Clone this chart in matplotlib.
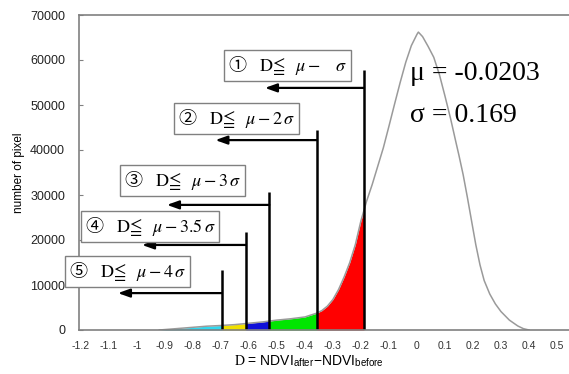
"""
Histogram of the NDVI difference with the mu - k*sigma thresholds marked.
"""

import numpy as np
import matplotlib.pyplot as plt

plt.rcParams.update({
    "font.family": ["Liberation Sans", "DejaVu Sans"],
    "mathtext.fontset": "stix",
})

# ---- data ----
d_values = [-0.92, -0.85, -0.80, -0.75, -0.70, -0.65, -0.60, -0.55, -0.50,
            -0.45, -0.40, -0.36, -0.34, -0.32, -0.30, -0.28, -0.26, -0.24,
            -0.22, -0.20, -0.18, -0.16, -0.14, -0.12, -0.10, -0.08, -0.06,
            -0.04, -0.02, 0.00, 0.005, 0.02, 0.04, 0.06, 0.08, 0.10, 0.12,
            0.14, 0.15, 0.165, 0.18, 0.19, 0.20, 0.21, 0.225, 0.24, 0.26,
            0.28, 0.30, 0.33, 0.36, 0.38, 0.40]
pixel_counts = [0, 350, 600, 850, 1000, 1200, 1500, 1800, 2200,
                2500, 2900, 3700, 4300, 5300, 6800, 9000, 11800, 15000,
                19000, 24300, 28600, 32300, 36400, 40500, 45300, 50200, 55000,
                59500, 63200, 65700, 66200, 65200, 63000, 60600, 56800, 52000,
                47000, 41500, 38800, 34500, 29500, 26000, 22500, 19000, 14500,
                11000, 8000, 5800, 4100, 2200, 900, 300, 0]

MU = -0.0203
SIGMA = 0.169
k_levels = [1, 2, 3, 3.5, 4]
k_labels = [r"①$\quad\mathrm{D}\!\leqq\;\ \mu -\quad\sigma\;$",
            r"②$\quad\mathrm{D}\!\leqq\;\ \mu - 2\,\sigma\;$",
            r"③$\quad\mathrm{D}\!\leqq\;\ \mu - 3\,\sigma\;$",
            r"④$\quad\mathrm{D}\!\leqq\;\ \mu - 3.5\,\sigma\;$",
            r"⑤$\quad\mathrm{D}\!\leqq\;\ \mu - 4\,\sigma\;$"]
# band just below each threshold (k=1 band is mu-2s..mu-s, last is tail)
band_colors = ["#ff0000", "#00e600", "#1010d8", "#f0e000", "#30d8f0"]

xtick_values = [-1.2, -1.1, -1.0, -0.9, -0.8, -0.7, -0.6, -0.5, -0.4, -0.3,
                -0.2, -0.1, 0.0, 0.1, 0.2, 0.3, 0.4, 0.5]
xtick_labels = ["-1.2", "-1.1", "-1", "-0.9", "-0.8", "-0.7", "-0.6", "-0.5",
                "-0.4", "-0.3", "-0.2", "-0.1", "0", "0.1", "0.2", "0.3",
                "0.4", "0.5"]
ytick_values = [0, 10000, 20000, 30000, 40000, 50000, 60000, 70000]

# ---- annotation layout (data units) ----
line_tops = [57800, 44400, 30700, 21800, 13300]
arrow_y = [53800, 42200, 27800, 18900, 8200]
arrow_tips = [-0.543, -0.720, -0.893, -0.982, -1.068]
label_x = [-0.461, -0.645, -0.839, -0.954, -1.034]
label_y = [58800, 47000, 33300, 22900, 13000]

x = np.array(d_values)
y = np.array(pixel_counts)
thresholds = [MU - k * SIGMA for k in k_levels]

fig = plt.figure(figsize=(5.69, 3.74), dpi=100)
ax = fig.add_axes([79 / 569, 44 / 374, 490 / 569, 315 / 374])

# coloured bands under the curve
edges = [MU - 1 * SIGMA] + thresholds[1:] + [x[0]]
for i, color in enumerate(band_colors):
    hi, lo = edges[i], edges[i + 1]
    inside = (x > lo) & (x < hi)
    bx = np.concatenate([[lo], x[inside], [hi]])
    by = np.interp(bx, x, y)
    ax.fill_between(bx, by, color=color, lw=0)

ax.plot(x, y, color="#9a9a9a", lw=1.1)

for xk, top, ay, tip, lab, lx, ly in zip(thresholds, line_tops, arrow_y,
                                          arrow_tips, k_labels, label_x, label_y):
    ax.plot([xk, xk], [0, top], color="black", lw=1.8, solid_capstyle="butt")
    ax.annotate("", xy=(tip, ay), xytext=(xk, ay),
                arrowprops=dict(arrowstyle="-|>,head_length=0.7,head_width=0.25",
                                color="black", lw=1.6, shrinkA=0, shrinkB=0))
    ax.text(lx, ly, lab, ha="center", va="center", fontsize=13,
            family="Noto Sans CJK JP",
            bbox=dict(boxstyle="square,pad=0.22", fc="white", ec="#808080", lw=1))

ax.text(-0.025, 56900, f"μ = {MU}", family="Liberation Serif", fontsize=20,
        va="center")
ax.text(-0.025, 47600, f"σ = {SIGMA}", family="Liberation Serif", fontsize=20,
        va="center")

ax.set_xlim(-1.207, 0.543)
ax.set_ylim(0, 70000)
ax.set_xticks(xtick_values)
ax.set_xticklabels(xtick_labels)
ax.set_yticks(ytick_values)
ax.set_yticklabels([str(v) for v in ytick_values])
ax.tick_params(axis="x", length=0, labelsize=7.5, pad=8, colors="#333333")
ax.tick_params(axis="y", direction="in", length=3, labelsize=9, pad=10,
               colors="#222222")
ax.tick_params(axis="y", color="#808080")

for side in ["left", "bottom", "top"]:
    ax.spines[side].set_color("#808080")
    ax.spines[side].set_linewidth(1.2)
ax.spines["right"].set_visible(False)

ax.set_ylabel("number of pixel", fontsize=8.5)
ax.yaxis.set_label_coords(-0.11, 0.5)
ax.set_xlabel(r"$\mathrm{D}$ = NDVI$_{\mathregular{after}}$−NDVI$_{\mathregular{before}}$",
              fontsize=10)
ax.xaxis.set_label_coords(0.47, -0.075)

fig.savefig("out.png", dpi=100)
